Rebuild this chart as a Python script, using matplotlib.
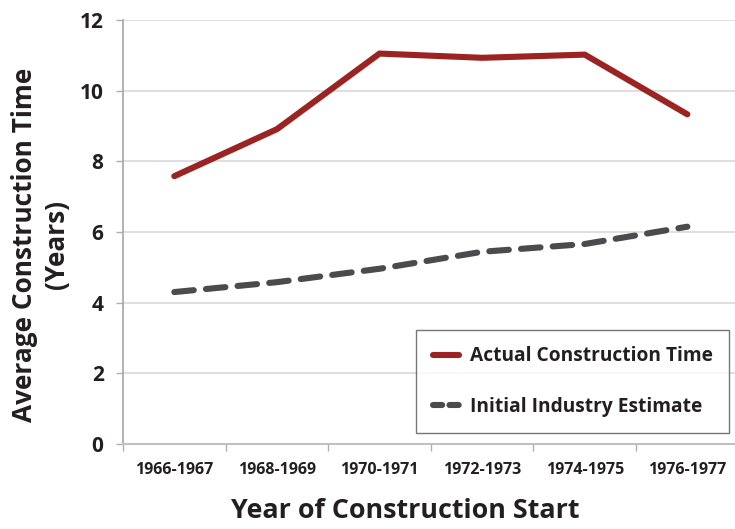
import matplotlib
matplotlib.use("Agg")
import matplotlib.pyplot as plt
from matplotlib.lines import Line2D

categories = ["1966-1967", "1968-1969", "1970-1971", "1972-1973", "1974-1975", "1976-1977"]
actual = [7.58, 8.91, 11.05, 10.93, 11.02, 9.33]
estimate = [4.30, 4.58, 4.96, 5.44, 5.66, 6.15]
yticks = [0, 2, 4, 6, 8, 10, 12]

plt.rcParams['font.family'] = ['Open Sans', 'DejaVu Sans']
txt = '#231f20'
red = '#9b2321'
gray = '#4b4b4d'

fig = plt.figure(figsize=(7.35, 5.29), dpi=100)
ax = fig.add_axes([123/735, 85/529, 1 - 123/735 + 0.005, (444-20)/529])

x = list(range(len(categories)))
ax.plot(x, actual, color=red, lw=4.4, solid_capstyle='round', solid_joinstyle='miter',
        label='Actual Construction Time')
ax.plot(x, estimate, color=gray, lw=4.4, dashes=(3.2, 2.0), dash_capstyle='round',
        label='Initial Industry Estimate')

ax.set_xlim(-0.5, len(categories) - 0.5)
ax.set_ylim(0, 12)
ax.set_yticks(yticks)
ax.set_yticklabels([str(v) for v in yticks], fontsize=15, fontweight='bold', color=txt)
ax.set_xticks(x)
ax.set_xticklabels(categories, fontsize=11.5, fontweight='bold', color=txt)
ax.tick_params(axis='x', length=0, pad=13)
ax.set_xticks([i + 0.5 for i in range(-1, len(categories))], minor=True)
ax.tick_params(axis='x', which='minor', length=5, width=1, color='#b0b0b0', direction='out')
ax.tick_params(axis='y', length=5, width=1, color='#b0b0b0', pad=9)

ax.grid(axis='y', color='#d9d9d9', lw=1.2)
ax.set_axisbelow(True)
for s in ['top', 'right']:
    ax.spines[s].set_visible(False)
ax.spines['left'].set_color('#a6a6a6')
ax.spines['bottom'].set_color('#c0c0c0')
ax.spines['left'].set_linewidth(1.2)
ax.spines['bottom'].set_linewidth(1.5)

ax.set_ylabel('Average Construction Time\n(Years)', fontsize=18.9, fontweight='bold',
              color=txt, linespacing=1.25)
ax.yaxis.set_label_coords(-0.086, 0.47)
ax.set_xlabel('Year of Construction Start', fontsize=19.4, fontweight='bold', color=txt)
ax.xaxis.set_label_coords(0.459, -0.128)

handles = [Line2D([], [], color=red, lw=4.4, solid_capstyle='round'),
           Line2D([], [], color=gray, lw=4.4, dashes=(1.5, 1.2), dash_capstyle='round')]
leg = ax.legend(handles, ['Actual Construction Time', 'Initial Industry Estimate'],
                loc='lower right', bbox_to_anchor=(0.985, 0.025),
                prop={'family': ['Open Sans', 'DejaVu Sans'], 'weight': 'bold', 'size': 13.8},
                frameon=True, fancybox=False, edgecolor='#555555', handlelength=1.35,
                handletextpad=0.6, labelspacing=1.6, borderpad=0.85, borderaxespad=0)
leg.get_frame().set_linewidth(1.0)
for t in leg.get_texts():
    t.set_color(txt)

fig.savefig('out.png', dpi=100)
